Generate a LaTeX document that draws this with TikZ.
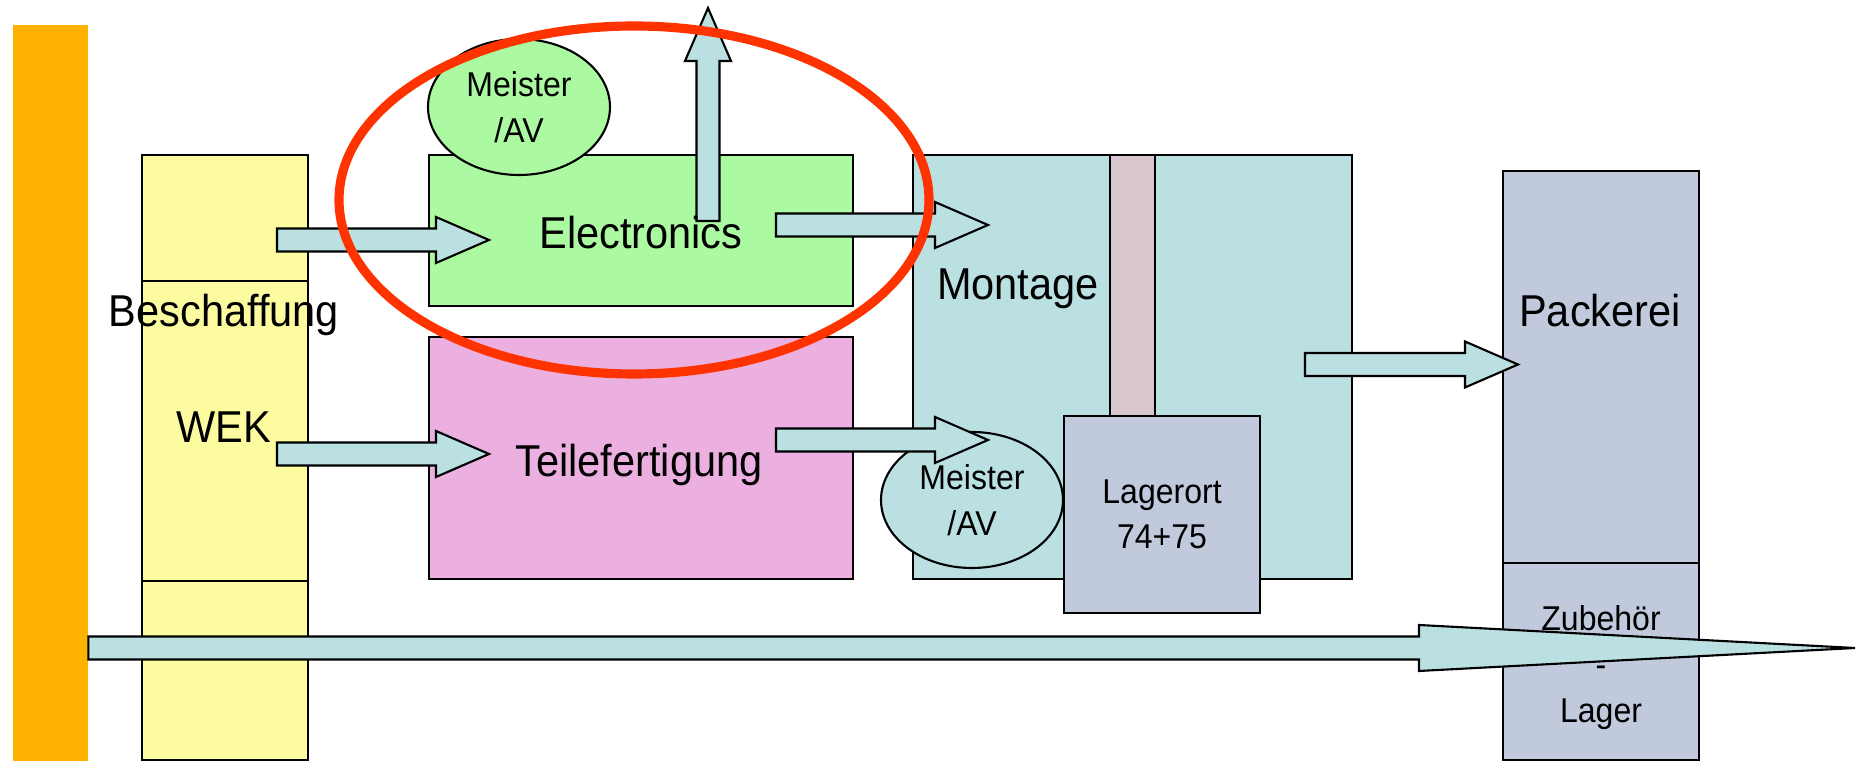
\documentclass[tikz,border=0pt]{standalone}
\usepackage{fontspec}
\setmainfont[FakeStretch=0.93]{Liberation Sans}
\usepackage{xcolor}
\usepackage{tikz}
\usetikzlibrary{positioning,shapes.geometric}
\definecolor{barorange}{RGB}{255,178,0}
\definecolor{buyyellow}{RGB}{253,251,160}
\definecolor{elecgreen}{RGB}{171,250,161}
\definecolor{partpink}{RGB}{235,176,224}
\definecolor{flowteal}{RGB}{186,224,226}
\definecolor{stockblue}{RGB}{193,202,221}
\definecolor{stripmauve}{RGB}{216,198,206}
\definecolor{ringred}{RGB}{255,51,0}
\tikzset{
  box/.style={draw=black, line width=0.6pt, inner sep=0pt, anchor=south west},
  flow/.style={draw=black, fill=flowteal, line width=0.6pt},
  bigtxt/.style={font=\fontsize{12.7}{15}\selectfont, inner sep=0pt, anchor=base},
  smalltxt/.style={font=\fontsize{9.8}{13}\selectfont, align=center},
  meister/.style={ellipse, draw=black, line width=0.6pt, minimum width=1.82cm,
                  minimum height=1.36cm, inner sep=0pt, smalltxt}
}
\newcommand{\flowarrow}[3][5.3mm]{%
  \draw[flow] ([yshift=1.15mm]#2) -- ([xshift=-#1,yshift=1.15mm]#3)
    -- ([xshift=-#1,yshift=2.3mm]#3) -- (#3)
    -- ([xshift=-#1,yshift=-2.3mm]#3) -- ([xshift=-#1,yshift=-1.15mm]#3)
    -- ([yshift=-1.15mm]#2) -- cycle;}
\newcommand{\flowarrowup}[2]{%
  \draw[flow] ([xshift=-1.15mm]#1) -- ([xshift=-1.15mm,yshift=-5.3mm]#2)
    -- ([xshift=-2.3mm,yshift=-5.3mm]#2) -- (#2)
    -- ([xshift=2.3mm,yshift=-5.3mm]#2) -- ([xshift=1.15mm,yshift=-5.3mm]#2)
    -- ([xshift=1.15mm]#1) -- cycle;}

\begin{document}
\begin{tikzpicture}
  \useasboundingbox (0,0) rectangle (18.58,7.62);
  \node[fill=barorange, inner sep=0pt, minimum width=0.75cm, minimum height=7.36cm,
        anchor=south west] (bar) at (0.12,0) {};
  \node[box, fill=buyyellow, minimum width=1.66cm, minimum height=6.05cm] (buy) at (1.41,0.01) {};
  \draw[line width=0.6pt] (1.41,4.81) -- (3.07,4.81);
  \draw[line width=0.6pt] (1.41,1.81) -- (3.07,1.81);
  \node[box, fill=elecgreen, minimum width=4.24cm, minimum height=1.51cm] (elec) at (4.28,4.55) {};
  \node[box, fill=partpink, minimum width=4.24cm, minimum height=2.42cm] (parts) at (4.28,1.82) {};
  \node[box, fill=flowteal, minimum width=4.39cm, minimum height=4.24cm] (mont) at (9.12,1.82) {};
  \node[box, fill=stripmauve, minimum width=0.45cm, minimum height=2.61cm] (strip) at (11.09,3.45) {};
  \node[box, fill=stockblue, minimum width=1.96cm, minimum height=1.97cm, smalltxt]
       (store) at (10.63,1.48) {Lagerort\\74+75};
  \node[box, fill=stockblue, minimum width=1.96cm, minimum height=3.92cm] (pack) at (15.02,1.98) {};
  \node[box, fill=stockblue, minimum width=1.96cm, minimum height=1.97cm] (acc) at (15.02,0.01) {};
  \node[meister, fill=elecgreen] (chiefelec) at (5.19,6.55) {Meister\\/AV};
  \node[meister, fill=flowteal] (chiefmont) at (9.72,2.62) {Meister\\/AV};

  \coordinate (a1t) at (2.77,5.22);  \coordinate (a1h) at (4.89,5.22);
  \coordinate (a2t) at (2.77,3.08);  \coordinate (a2h) at (4.89,3.08);
  \coordinate (a3t) at (7.76,5.37);  \coordinate (a3h) at (9.88,5.37);
  \coordinate (a4t) at (7.76,3.22);  \coordinate (a4h) at (9.88,3.22);
  \coordinate (a5t) at (13.05,3.975); \coordinate (a5h) at (15.18,3.975);
  \coordinate (upt) at (7.08,5.41);  \coordinate (uph) at (7.08,7.54);
  \coordinate (bigt) at (bar.east |- 0,1.14); \coordinate (bigh) at (18.55,1.14);
  \flowarrow{a1t}{a1h}
  \flowarrow{a2t}{a2h}
  \flowarrowup{upt}{uph}
  \flowarrow{a3t}{a3h}
  \flowarrow{a4t}{a4h}
  \flowarrow{a5t}{a5h}
  \flowarrow[4.36cm]{bigt}{bigh}

  \node[bigtxt] (buytxt) at (2.24,4.35) {Beschaffung};
  \node[bigtxt] (wektxt) at (2.24,3.19) {WEK};
  \node[bigtxt] (electxt) at (6.41,5.13) {Electronics};
  \node[bigtxt] (partstxt) at (6.39,2.85) {Teilefertigung};
  \node[bigtxt] (monttxt) at (10.18,4.62) {Montage};
  \node[bigtxt] (packtxt) at (16.00,4.35) {Packerei};
  \node[smalltxt] (acctxt) at ([yshift=-0.6mm]acc.center) {Zubehör\\-\\Lager};

  \node[ellipse, draw=ringred, line width=2.6pt, minimum width=5.90cm, minimum height=3.48cm]
       (ring) at (6.34,5.62) {};
\end{tikzpicture}
\end{document}
